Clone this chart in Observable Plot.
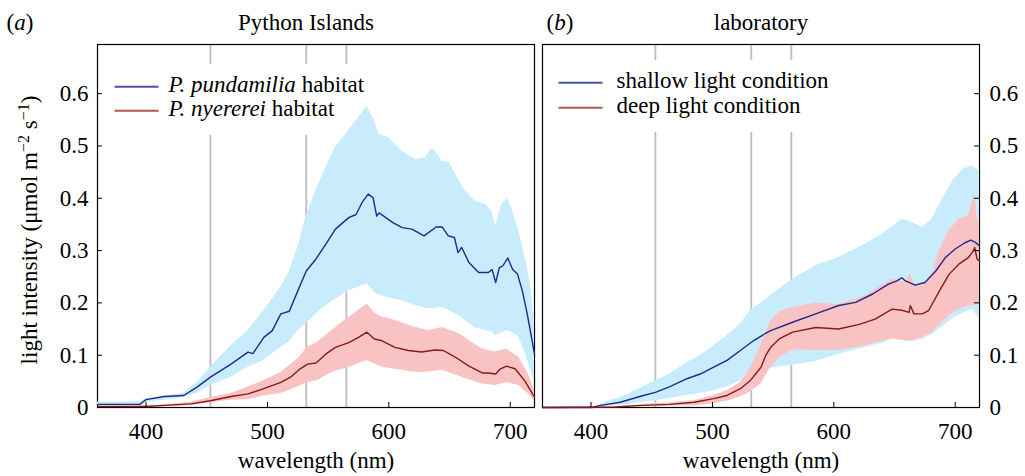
<!DOCTYPE html>
<html>
<head>
<meta charset="utf-8">
<script src="https://cdn.jsdelivr.net/npm/d3@7"></script>
<script src="https://cdn.jsdelivr.net/npm/@observablehq/plot@0.6"></script>
<style>
  html, body { margin: 0; padding: 0; background: #fff; }
  #wrap { display: flex; width: 1025px; height: 476px; overflow: hidden; }
  #wrap svg { font-family: "Liberation Serif", "Times New Roman", "DejaVu Serif", serif !important; font-size: 23px !important; }
  #wrap svg text { font-family: "Liberation Serif", "Times New Roman", "DejaVu Serif", serif !important; font-variant: normal !important; }
</style>
</head>
<body>
<div id="wrap"></div>
<script>
// ---------- scales / ticks ----------
const xDomain = [360, 720];
const yDomain = [0, 0.694];
const xTicks = [400, 500, 600, 700];
const yTicks = [0, 0.1, 0.2, 0.3, 0.4, 0.5, 0.6];
const yTickLabels = ["0", "0.1", "0.2", "0.3", "0.4", "0.5", "0.6"];
const photoreceptorPeaks = [453, 532, 565];

// ---------- (a) Python Islands ----------
// band rows: [wavelength, lower, upper]; mean rows: [wavelength, value]
const pundamiliaBand = [
  [360,0.004,0.010],[395,0.005,0.011],[400,0.010,0.017],[415,0.014,0.022],[431,0.019,0.027],
  [442,0.027,0.048],[453,0.042,0.077],[470,0.058,0.118],[484,0.077,0.147],[497,0.090,0.185],
  [511,0.115,0.230],[518,0.125,0.260],[525,0.147,0.306],[532,0.160,0.366],[540,0.178,0.415],
  [548,0.195,0.459],[556,0.207,0.497],[567,0.223,0.529],[575,0.230,0.554],[582,0.237,0.576],
  [588,0.220,0.548],[592,0.215,0.522],[600,0.210,0.516],[611,0.204,0.490],[622,0.195,0.474],
  [630,0.190,0.477],[636,0.189,0.497],[644,0.191,0.471],[650,0.185,0.468],[658,0.175,0.433],
  [663,0.167,0.414],[671,0.152,0.395],[680,0.147,0.388],[685,0.144,0.375],[688,0.137,0.347],
  [693,0.143,0.388],[698,0.147,0.400],[702,0.143,0.375],[707,0.135,0.338],[713,0.100,0.280],
  [717,0.070,0.230],[720,0.050,0.153]
];
const pundamiliaMean = [
  [360,0.006],[395,0.006],[400,0.015],[415,0.021],[431,0.023],[442,0.039],[453,0.058],
  [470,0.083],[484,0.106],[488,0.103],[497,0.134],[504,0.147],[511,0.179],[518,0.184],
  [525,0.223],[532,0.261],[540,0.284],[548,0.312],[556,0.341],[567,0.363],[573,0.369],
  [578,0.392],[583,0.408],[587,0.401],[590,0.366],[592,0.372],[603,0.354],[611,0.344],
  [619,0.341],[629,0.328],[639,0.345],[644,0.345],[649,0.328],[654,0.325],[657,0.296],
  [660,0.306],[666,0.277],[674,0.258],[682,0.258],[685,0.264],[688,0.239],[691,0.267],
  [694,0.271],[698,0.286],[702,0.264],[706,0.255],[710,0.223],[714,0.179],[717,0.141],
  [720,0.102]
];
const nyerereiBand = [
  [360,0.000,0.002],[400,0.000,0.003],[415,0.001,0.005],[437,0.004,0.010],[453,0.009,0.019],
  [470,0.014,0.027],[484,0.015,0.039],[497,0.022,0.051],[511,0.027,0.067],[525,0.039,0.093],
  [533,0.048,0.115],[541,0.051,0.124],[553,0.067,0.147],[567,0.077,0.172],[582,0.090,0.198],
  [589,0.082,0.179],[595,0.077,0.172],[600,0.075,0.170],[611,0.071,0.162],[617,0.069,0.157],
  [627,0.067,0.150],[633,0.068,0.147],[644,0.071,0.153],[655,0.062,0.144],[660,0.058,0.138],
  [666,0.053,0.128],[677,0.045,0.112],[688,0.042,0.106],[697,0.048,0.112],[707,0.042,0.096],
  [715,0.026,0.064],[720,0.013,0.032]
];
const nyerereiMean = [
  [360,0.002],[400,0.002],[415,0.004],[437,0.007],[453,0.013],[470,0.021],[484,0.026],
  [497,0.036],[511,0.048],[519,0.058],[527,0.074],[533,0.083],[540,0.085],[548,0.102],
  [556,0.115],[567,0.124],[575,0.134],[582,0.144],[588,0.131],[594,0.128],[605,0.115],
  [616,0.109],[627,0.106],[638,0.110],[645,0.109],[655,0.096],[666,0.079],[677,0.066],
  [682,0.066],[688,0.064],[692,0.074],[697,0.079],[704,0.074],[712,0.051],[720,0.020]
];

// ---------- (b) laboratory ----------
const shallowBand = [
  [360,0,0],[401,0,0],[408,0.001,0.007],[424,0.004,0.019],[443,0.010,0.039],[453,0.013,0.051],
  [465,0.017,0.064],[479,0.023,0.086],[490,0.027,0.099],[501,0.032,0.118],[512,0.039,0.137],
  [523,0.051,0.159],[531,0.072,0.185],[540,0.073,0.200],[548,0.075,0.214],[566,0.081,0.245],
  [585,0.088,0.271],[604,0.102,0.287],[626,0.115,0.312],[640,0.123,0.331],[648,0.131,0.345],
  [656,0.128,0.360],[662,0.125,0.356],[673,0.130,0.344],[681,0.140,0.360],[687,0.150,0.388],
  [698,0.170,0.433],[706,0.180,0.455],[714,0.188,0.462],[720,0.170,0.452]
];
const shallowMean = [
  [360,0],[401,0],[408,0.004],[424,0.010],[443,0.023],[453,0.029],[465,0.040],[479,0.055],
  [490,0.064],[501,0.077],[512,0.090],[523,0.109],[534,0.128],[544,0.142],[548,0.147],
  [566,0.163],[585,0.179],[604,0.195],[618,0.201],[632,0.217],[645,0.236],[652,0.242],
  [656,0.248],[659,0.242],[667,0.234],[675,0.239],[684,0.261],[692,0.287],[700,0.303],
  [708,0.315],[713,0.320],[717,0.315],[720,0.309]
];
const deepBand = [
  [360,0,0],[420,0,0.001],[443,0.002,0.006],[465,0.003,0.009],[485,0.003,0.013],
  [501,0.007,0.023],[512,0.012,0.032],[523,0.020,0.048],[531,0.029,0.074],[540,0.045,0.120],
  [548,0.077,0.165],[555,0.095,0.182],[566,0.110,0.191],[585,0.109,0.200],[604,0.109,0.197],
  [626,0.118,0.213],[648,0.131,0.245],[659,0.128,0.239],[663,0.128,0.255],[666,0.128,0.236],
  [673,0.134,0.233],[681,0.143,0.255],[687,0.158,0.300],[695,0.175,0.338],[703,0.188,0.360],
  [711,0.194,0.366],[716,0.195,0.411],[718,0.196,0.363],[720,0.197,0.354]
];
const deepMean = [
  [360,0],[420,0.001],[443,0.004],[465,0.006],[485,0.010],[501,0.017],[512,0.023],
  [523,0.036],[531,0.051],[540,0.077],[544,0.100],[548,0.115],[555,0.131],[566,0.144],
  [585,0.153],[604,0.150],[621,0.159],[634,0.169],[648,0.188],[656,0.186],[662,0.182],
  [663,0.195],[666,0.179],[673,0.179],[678,0.185],[687,0.223],[695,0.255],[703,0.274],
  [711,0.287],[715,0.300],[716,0.306],[718,0.284],[720,0.280]
];

// ---------- colours ----------
const blueFill = "#c8ecfc", redFill = "#fac3c3";
const blueLine = "#1e2a8c", redLine = "#841a1a";
const blueKey = "#4a52a8", redKey = "#b25656";

// rich text (italics / superscripts) applied after rendering
const rich = {
  "(a)": [["("], ["a", "i"], [")"]],
  "(b)": [["("], ["b", "i"], [")"]],
  "P. pundamilia habitat": [["P. pundamilia", "i"], [" habitat"]],
  "P. nyererei habitat": [["P. nyererei", "i"], [" habitat"]],
  "light intensity (μmol m−2 s−1)": [["light intensity (μmol m"], ["−2", "s"], [" s"], ["−1", "s"], [")"]]
};

function label(t, o) {
  return Plot.text([t], {text: d => d, lineAnchor: "middle", ...o});
}

function panel(cfg) {
  const left = cfg.yAnchor === "left";
  return Plot.plot({
    width: cfg.width, height: 476,
    marginLeft: cfg.marginLeft, marginRight: cfg.marginRight, marginTop: 44, marginBottom: 69,
    x: {domain: xDomain},
    y: {domain: yDomain},
    style: {fontFamily: '"Liberation Serif", "Times New Roman", serif', fontSize: "23px", color: "#000", background: "#fff", overflow: "visible"},
    marks: [
      Plot.ruleX(photoreceptorPeaks, {stroke: "#bdbdbd", strokeWidth: 1.8}),
      Plot.frame({stroke: "#000", strokeWidth: 1.2}),
      Plot.areaY(cfg.bandA, {x: d => d[0], y1: d => d[1], y2: d => d[2], fill: blueFill}),
      Plot.areaY(cfg.bandB, {x: d => d[0], y1: d => d[1], y2: d => d[2], fill: redFill}),
      Plot.line(cfg.meanA, {x: d => d[0], y: d => d[1], stroke: blueLine, strokeWidth: 1.4}),
      Plot.line(cfg.meanB, {x: d => d[0], y: d => d[1], stroke: redLine, strokeWidth: 1.4}),
      Plot.ruleX(xTicks, {y1: yDomain[0], y2: yDomain[0], insetBottom: 5, stroke: "#000", strokeWidth: 1}),
      left
        ? Plot.ruleY(yTicks, {x1: xDomain[0], x2: xDomain[0], insetRight: -5, stroke: "#000", strokeWidth: 1})
        : Plot.ruleY(yTicks, {x1: xDomain[1], x2: xDomain[1], insetLeft: -5, stroke: "#000", strokeWidth: 1}),
      Plot.axisX(xTicks, {tickSize: 0, tickPadding: 15, label: null}),
      Plot.axisY(yTicks, {anchor: cfg.yAnchor, tickSize: 0, tickPadding: left ? 9 : 10,
        tickFormat: d => yTickLabels[yTicks.indexOf(d)], label: null}),
      label(cfg.tag, {frameAnchor: "top-left", textAnchor: "start", dx: cfg.tagDx, dy: -22}),
      label(cfg.title, {frameAnchor: "top", textAnchor: "middle", dx: cfg.titleDx, dy: -22}),
      label("wavelength (nm)", {frameAnchor: "bottom", textAnchor: "middle", dy: 53}),
      label(cfg.keys[0].label, {frameAnchor: "top-left", textAnchor: "start", dx: cfg.keyDx, dy: cfg.keyDy[0]}),
      label(cfg.keys[1].label, {frameAnchor: "top-left", textAnchor: "start", dx: cfg.keyDx, dy: cfg.keyDy[1]}),
      ...(cfg.yLabel ? [label(cfg.yLabel, {frameAnchor: "left", textAnchor: "middle", rotate: -90, dx: -68, dy: 4})] : [])
    ]
  });
}

const NS = "http://www.w3.org/2000/svg";
function enrich(svg) {
  svg.querySelectorAll("text").forEach(node => {
    const segs = rich[node.textContent];
    if (!segs) return;
    while (node.firstChild) node.removeChild(node.firstChild);
    let raised = false;
    for (const [t, kind] of segs) {
      const ts = document.createElementNS(NS, "tspan");
      ts.textContent = t;
      if (kind === "i") ts.setAttribute("style", "font-style:italic");
      if (kind === "s") {
        ts.setAttribute("style", "font-size:16px");
        if (!raised) { ts.setAttribute("dy", "-8"); raised = true; }
      } else if (raised) { ts.setAttribute("dy", "8"); raised = false; }
      node.appendChild(ts);
    }
  });
}

function addKey(svg, keys, gap, len) {
  const sr = svg.getBoundingClientRect();
  let x0 = Infinity, y0 = Infinity, x1 = -Infinity, y1 = -Infinity;
  const swatches = [];
  for (const k of keys) {
    const t = [...svg.querySelectorAll("text")].find(n => n.textContent === k.label);
    if (!t) continue;
    const r = t.getBoundingClientRect();
    const lx = r.left - sr.left, ly = r.top - sr.top;
    swatches.push({xa: lx - gap - len, xb: lx - gap, y: ly + r.height * 0.6, color: k.color});
    x0 = Math.min(x0, lx - gap - len); x1 = Math.max(x1, lx + r.width);
    y0 = Math.min(y0, ly); y1 = Math.max(y1, ly + r.height);
  }
  const box = document.createElementNS(NS, "rect");
  box.setAttribute("x", x0 - 6); box.setAttribute("y", y0 - 8);
  box.setAttribute("width", x1 - x0 + 12); box.setAttribute("height", y1 - y0 + 22);
  box.setAttribute("fill", "#fff");
  const firstArea = svg.querySelector('g[aria-label="area"]');
  if (firstArea) svg.insertBefore(box, firstArea); else svg.appendChild(box);
  for (const s of swatches) {
    const l = document.createElementNS(NS, "line");
    l.setAttribute("x1", s.xa); l.setAttribute("x2", s.xb);
    l.setAttribute("y1", s.y); l.setAttribute("y2", s.y);
    l.setAttribute("stroke", s.color); l.setAttribute("stroke-width", 2);
    svg.appendChild(l);
  }
}

const wrap = document.getElementById("wrap");

const keysA = [{label: "P. pundamilia habitat", color: blueKey}, {label: "P. nyererei habitat", color: redKey}];
const keysB = [{label: "shallow light condition", color: blueKey}, {label: "deep light condition", color: redKey}];

const svgA = panel({
  width: 538, marginLeft: 97, marginRight: 4, yAnchor: "left",
  bandA: pundamiliaBand, meanA: pundamiliaMean, bandB: nyerereiBand, meanB: nyerereiMean,
  tag: "(a)", tagDx: -91, title: "Python Islands", titleDx: -10,
  keys: keysA, keyDx: 71, keyDy: [40, 64],
  yLabel: "light intensity (μmol m−2 s−1)"
});
const svgB = panel({
  width: 487, marginLeft: 4, marginRight: 46, yAnchor: "right",
  bandA: shallowBand, meanA: shallowMean, bandB: deepBand, meanB: deepMean,
  tag: "(b)", tagDx: 4, title: "laboratory", titleDx: 0,
  keys: keysB, keyDx: 74, keyDy: [36, 61]
});
wrap.appendChild(svgA);
wrap.appendChild(svgB);
enrich(svgA); enrich(svgB);
addKey(svgA, keysA, 9, 44);
addKey(svgB, keysB, 14, 44);
</script>
</body>
</html>
